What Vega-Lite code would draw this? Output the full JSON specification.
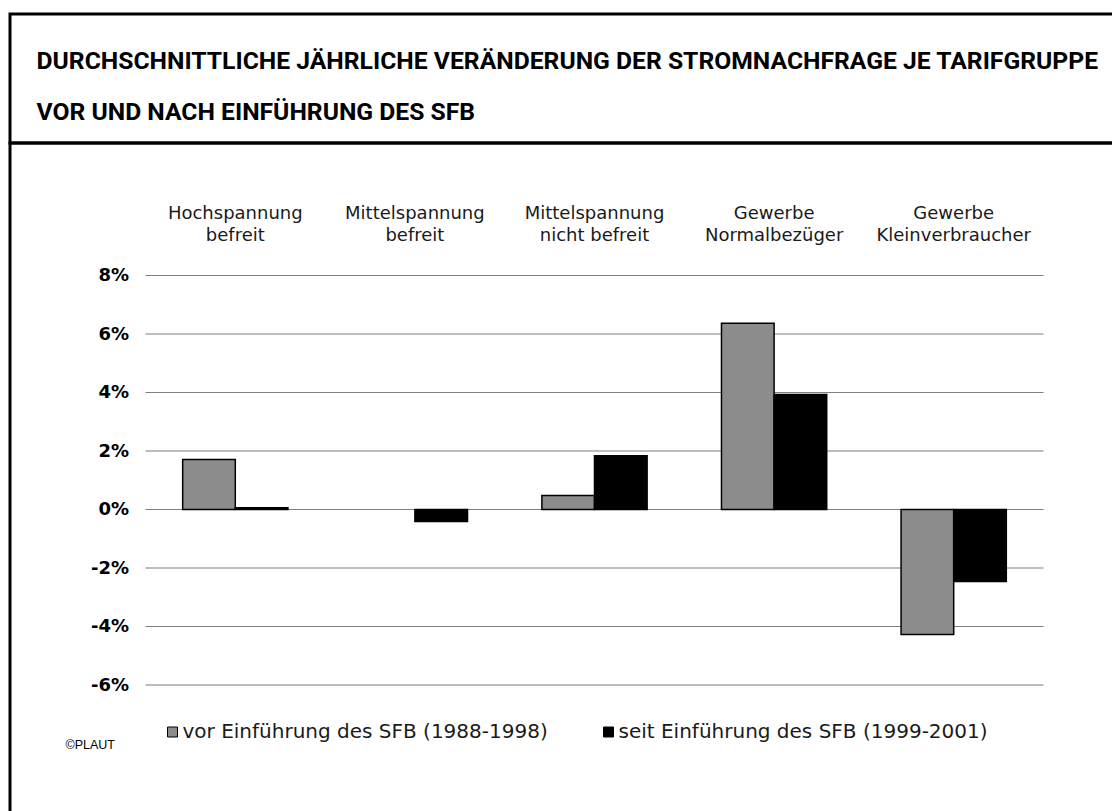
{
  "$schema": "https://vega.github.io/schema/vega-lite/v6.json",
  "background": "white",
  "padding": {"left": 8, "top": 12, "right": 0, "bottom": 0},
  "spacing": 0,
  "bounds": "flush",
  "config": {
    "view": {"stroke": "#000000", "strokeWidth": 3},
    "concat": {"spacing": 0}
  },
  "vconcat": [
    {
      "width": 1110,
      "height": 129,
      "view": {"stroke": "#000000", "strokeWidth": 3},
      "title": {
        "text": ["DURCHSCHNITTLICHE JÄHRLICHE VERÄNDERUNG DER STROMNACHFRAGE JE TARIFGRUPPE", "VOR UND NACH EINFÜHRUNG DES SFB"],
        "orient": "top",
        "anchor": "start",
        "frame": "group",
        "offset": -111,
        "dx": 26.5,
        "baseline": "top",
        "lineHeight": 51,
        "font": "Roboto",
        "fontSize": 24.7,
        "fontWeight": "bold",
        "color": "#000000"
      },
      "layer": [
        {
          "data": {"values": [{"y": 0}]},
          "mark": {"type": "rule", "opacity": 0},
          "encoding": {"y": {"field": "y", "type": "quantitative", "axis": null}}
        }
      ]
    },
    {
      "width": 1110,
      "height": 680,
      "view": {"stroke": "#000000", "strokeWidth": 3},
      "title": {
        "text": "©PLAUT",
        "orient": "bottom",
        "anchor": "start",
        "frame": "group",
        "offset": -84,
        "dx": 55.5,
        "baseline": "top",
        "font": "Liberation Sans",
        "fontSize": 12.5,
        "fontWeight": "normal",
        "color": "#000000"
      },
      "layer": [
        {
          "data": {"values": [{"v": -6}, {"v": -4}, {"v": -2}, {"v": 0}, {"v": 2}, {"v": 4}, {"v": 6}, {"v": 8}]},
          "mark": {"type": "rule", "color": "#7f7f7f", "strokeWidth": 1.2},
          "encoding": {
            "y": {
              "field": "v",
              "type": "quantitative",
              "scale": {"domain": [-6, 8], "range": [542, 132.5], "nice": false, "zero": false},
              "axis": {
                "orient": "left",
                "offset": -135.5,
                "values": [-6, -4, -2, 0, 2, 4, 6, 8],
                "labelExpr": "datum.value + '%'",
                "grid": false,
                "domain": false,
                "ticks": false,
                "tickSize": 0,
                "labelPadding": 17,
                "labelFont": "DejaVu Sans",
                "labelFontSize": 18,
                "labelFontWeight": "bold",
                "labelColor": "#000000",
                "title": null
              }
            },
            "x": {"datum": 0, "type": "quantitative", "scale": {"domain": [0, 1], "range": [135.5, 1033.5]}, "axis": null},
            "x2": {"datum": 1}
          }
        },
        {
          "data": {
            "values": [
              {"gruppe": "Hochspannung\nbefreit", "periode": "vor Einführung des SFB (1988-1998)", "wert": 1.71},
              {"gruppe": "Hochspannung\nbefreit", "periode": "seit Einführung des SFB (1999-2001)", "wert": 0.06},
              {"gruppe": "Mittelspannung\nbefreit", "periode": "vor Einführung des SFB (1988-1998)", "wert": 0},
              {"gruppe": "Mittelspannung\nbefreit", "periode": "seit Einführung des SFB (1999-2001)", "wert": -0.41},
              {"gruppe": "Mittelspannung\nnicht befreit", "periode": "vor Einführung des SFB (1988-1998)", "wert": 0.48},
              {"gruppe": "Mittelspannung\nnicht befreit", "periode": "seit Einführung des SFB (1999-2001)", "wert": 1.84},
              {"gruppe": "Gewerbe\nNormalbezüger", "periode": "vor Einführung des SFB (1988-1998)", "wert": 6.37},
              {"gruppe": "Gewerbe\nNormalbezüger", "periode": "seit Einführung des SFB (1999-2001)", "wert": 3.93},
              {"gruppe": "Gewerbe\nKleinverbraucher", "periode": "vor Einführung des SFB (1988-1998)", "wert": -4.27},
              {"gruppe": "Gewerbe\nKleinverbraucher", "periode": "seit Einführung des SFB (1999-2001)", "wert": -2.46}
            ]
          },
          "mark": {"type": "bar", "stroke": "#000000", "strokeWidth": 1.5},
          "encoding": {
            "x": {
              "field": "gruppe",
              "type": "nominal",
              "sort": null,
              "scale": {"range": [135.5, 1033.5], "paddingInner": 0.414, "paddingOuter": 0.207},
              "axis": {
                "orient": "top",
                "offset": -83,
                "domain": false,
                "ticks": false,
                "tickSize": 0,
                "labelPadding": 4,
                "labelAngle": 0,
                "labelExpr": "split(datum.label, '\\n')",
                "labelFont": "DejaVu Sans",
                "labelFontSize": 18,
                "labelLineHeight": 22,
                "labelColor": "#1a1a1a",
                "labelLimit": 300,
                "title": null
              }
            },
            "xOffset": {"field": "periode", "type": "nominal", "sort": null, "scale": {"paddingInner": 0, "paddingOuter": 0}},
            "y": {"field": "wert", "type": "quantitative"},
            "fill": {
              "field": "periode",
              "type": "nominal",
              "sort": null,
              "scale": {"domain": ["vor Einführung des SFB (1988-1998)", "seit Einführung des SFB (1999-2001)"], "range": ["#8c8c8c", "#000000"]},
              "legend": {
                "orient": "none",
                "legendX": 152.5,
                "legendY": 708,
                "direction": "horizontal",
                "title": null,
                "padding": 0,
                "symbolType": "square",
                "symbolSize": 100,
                "symbolStrokeColor": "#000000",
                "symbolStrokeWidth": 1,
                "symbolOpacity": 1,
                "labelFont": "DejaVu Sans",
                "labelFontSize": 20,
                "labelColor": "#1a1a1a",
                "labelOffset": 0,
                "labelLimit": 500,
                "columnPadding": 50
              }
            },
            "strokeOpacity": {"condition": {"test": "datum.wert === 0", "value": 0}, "value": 1}
          }
        }
      ],
      "resolve": {"scale": {"x": "independent"}, "axis": {"x": "independent"}}
    }
  ]
}
